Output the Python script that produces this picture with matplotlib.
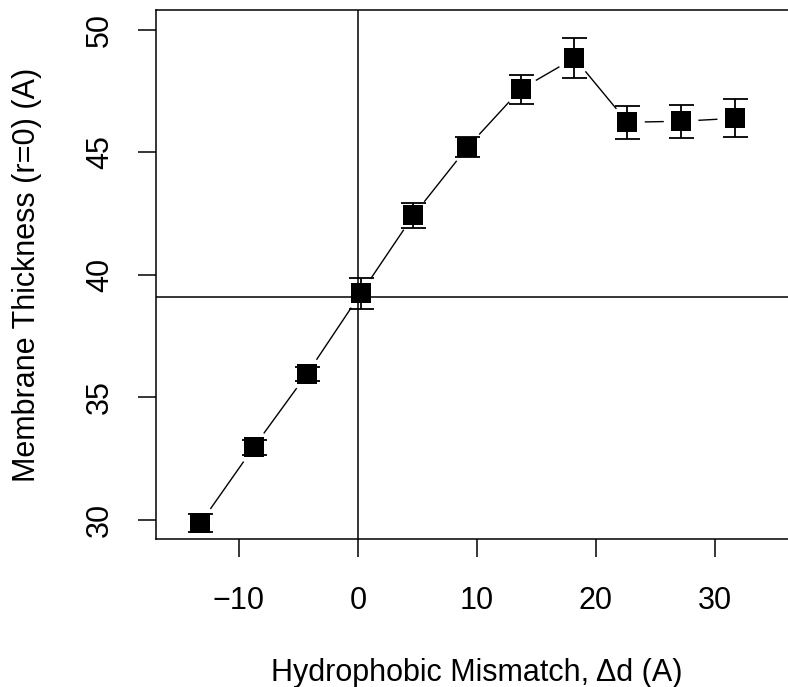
import numpy as np
import matplotlib
matplotlib.use("Agg")
import matplotlib.pyplot as plt

# values
mismatch = [-13.24, -8.77, -4.29, 0.25, 4.67, 9.21, 13.70, 18.20, 22.66, 27.17, 31.68]
thickness = [29.86, 32.95, 35.94, 39.24, 42.42, 45.20, 47.57, 48.84, 46.22, 46.26, 46.38]
err = [0.37, 0.31, 0.30, 0.63, 0.52, 0.40, 0.59, 0.83, 0.68, 0.68, 0.77]
x_ticks = [-10, 0, 10, 20, 30]
y_ticks = [30, 35, 40, 45, 50]
h_ref = 39.09
v_ref = 0

plt.rcParams['font.family'] = ['Liberation Sans', 'DejaVu Sans']

fig = plt.figure(figsize=(7.88, 6.87), dpi=100)
ax = fig.add_axes([155.7/788, 1 - 539.3/687, (798 - 155.7)/788, (539.3 - 10)/687])
ax.set_xlim(-17, 37)
ax.set_ylim(29.2, 50.8)

lw = 1.1
for s in ax.spines.values():
    s.set_linewidth(lw)
ax.spines['right'].set_visible(False)

ax.set_xticks(x_ticks)
ax.set_yticks(y_ticks)
ax.set_xticklabels([str(t).replace('-', '\u2212') for t in x_ticks])
ax.tick_params(axis='both', length=13.3, width=lw, labelsize=22)
ax.tick_params(axis='x', pad=20)
ax.tick_params(axis='y', pad=16, labelrotation=90)
for lab in ax.get_yticklabels():
    lab.set_va('center')

# reference lines
ax.axhline(h_ref, color='black', lw=lw, zorder=1)
ax.axvline(v_ref, color='black', lw=lw, zorder=1)

# connecting lines with gaps around points (like R type="b")
gap = 18
pts = ax.transData.transform(np.column_stack([mismatch, thickness]))
inv = ax.transData.inverted()
for i in range(len(pts) - 1):
    p0, p1 = pts[i], pts[i + 1]
    d = p1 - p0
    dist = np.hypot(*d)
    if dist <= 2 * gap:
        continue
    u = d / dist
    a = inv.transform(p0 + u * gap)
    b = inv.transform(p1 - u * gap)
    ax.plot([a[0], b[0]], [a[1], b[1]], color='black', lw=1.0, zorder=2)

ax.errorbar(mismatch, thickness, yerr=err, fmt='none', ecolor='black',
            elinewidth=1.3, capsize=9, capthick=1.3, zorder=3)
ax.plot(mismatch, thickness, 's', color='black', ms=13.7, mew=0, zorder=4)

fig.text(476.9/788, 1 - 681/687, 'Hydrophobic Mismatch, \u0394d (A)',
         ha='center', va='baseline', fontsize=22)
fig.text(27/788, 1 - 274.6/687, 'Membrane Thickness (r=0) (A)',
         ha='center', va='center', rotation=90, fontsize=22)

fig.savefig('out.png', dpi=100)
